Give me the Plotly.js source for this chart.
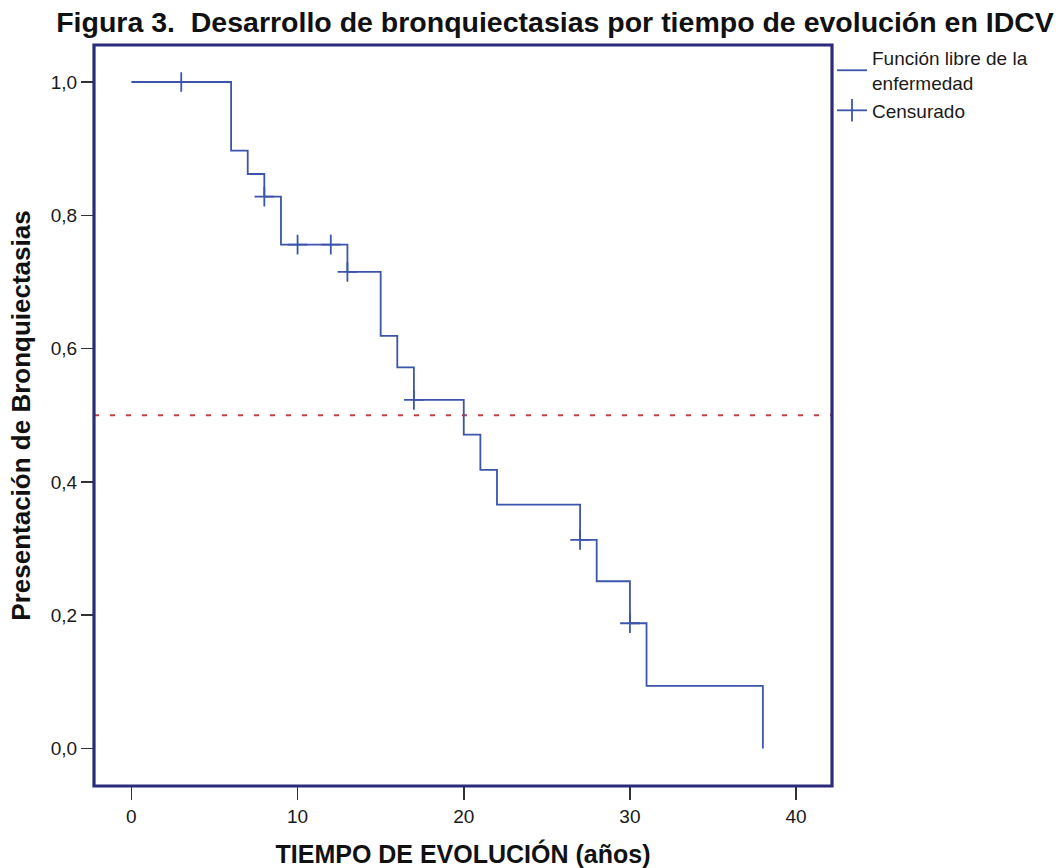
<!DOCTYPE html>
<html>
<head>
<meta charset="utf-8">
<script src="https://cdn.plot.ly/plotly-3.0.1.min.js"></script>
<style>
  html, body { margin: 0; padding: 0; background: #ffffff; }
  #chart { width: 1059px; height: 868px; }
</style>
</head>
<body>
<div id="chart"></div>
<script>
// Kaplan-Meier step data (time in years, survival fraction)
const eventTimes = [0, 6, 7, 8, 9, 13, 15, 16, 17, 20, 21, 22, 27, 28, 30, 31, 38];
const survival = [1.0, 0.897, 0.862, 0.828, 0.756, 0.715, 0.619, 0.572, 0.523, 0.471, 0.418, 0.366, 0.313, 0.251, 0.188, 0.094, 0.0];
// Censored observations
const censorTimes = [3, 8, 10, 12, 13, 17, 27, 30];
const censorSurvival = [1.0, 0.828, 0.756, 0.756, 0.715, 0.523, 0.313, 0.188];
// Axis ticks
const xTicks = [0, 10, 20, 30, 40];
const yTicks = [0.0, 0.2, 0.4, 0.6, 0.8, 1.0];
// Reference line (median)
const medianLevel = 0.5;

const seriesNames = ['Función libre de la<br>enfermedad', 'Censurado'];
const titleText = 'Figura 3.\u00a0 Desarrollo de bronquiectasias por tiempo de evolución en IDCV';
const xTitle = 'TIEMPO DE EVOLUCIÓN (años)';
const yTitle = 'Presentación de Bronquiectasias';

const lineColor = '#3c55aa';
const boxColor = '#2b2b7b';
const fontFamily = '"Liberation Sans", Arial, Helvetica, sans-serif';

const traces = [
  {
    x: eventTimes, y: survival,
    type: 'scatter', mode: 'lines',
    line: { shape: 'hv', color: lineColor, width: 1.8 },
    name: seriesNames[0],
    hoverinfo: 'x+y'
  },
  {
    x: censorTimes, y: censorSurvival,
    type: 'scatter', mode: 'markers',
    marker: { symbol: 'cross-thin-open', size: 14, color: lineColor, line: { color: lineColor, width: 1.8 } },
    name: seriesNames[1],
    showlegend: false,
    legendgroup: 'cens'
  },
  {
    x: [null], y: [null],
    type: 'scatter', mode: 'lines+markers',
    line: { color: lineColor, width: 1.8 },
    marker: { symbol: 'line-ns-open', size: 16, color: lineColor, line: { color: lineColor, width: 1.8 } },
    name: seriesNames[1],
    legendgroup: 'cens'
  }
];

const layout = {
  width: 1059, height: 868,
  paper_bgcolor: '#ffffff', plot_bgcolor: '#ffffff',
  separators: ',.',
  margin: { l: 94, r: 227, t: 45, b: 82, pad: 0 },
  font: { family: fontFamily, color: '#1a1a1a', size: 19 },
  title: {
    text: titleText,
    font: { family: fontFamily, size: 28.5, weight: 'bold', color: '#111111' },
    x: 555 / 1059, xref: 'container', xanchor: 'center',
    y: 1 - 22 / 868, yref: 'container', yanchor: 'middle'
  },
  xaxis: {
    range: [-2.25, 42.16],
    tickvals: xTicks,
    ticks: 'outside', ticklen: 13, tickwidth: 1.5, tickcolor: '#333333',
    tickfont: { size: 19, color: '#1a1a1a' },
    showgrid: false, zeroline: false, showline: false,
    title: { text: xTitle, font: { size: 25, weight: 'bold', color: '#111111' }, standoff: 22 },
    fixedrange: true
  },
  yaxis: {
    range: [-0.0562, 1.0555],
    tickvals: yTicks, tickformat: '.1f',
    ticks: 'outside', ticklen: 12, tickwidth: 1.5, tickcolor: '#333333',
    tickfont: { size: 19, color: '#1a1a1a' },
    showgrid: false, zeroline: false, showline: false,
    title: { text: yTitle, font: { size: 26, weight: 'bold', color: '#111111' }, standoff: 12 },
    fixedrange: true
  },
  legend: {
    x: 1.0, xanchor: 'left', y: 1.008, yanchor: 'top',
    bgcolor: 'rgba(0,0,0,0)', borderwidth: 0,
    font: { size: 19, color: '#1a1a1a' },
    tracegroupgap: 0
  },
  shapes: [
    {
      type: 'line', xref: 'paper', x0: 0, x1: 1, yref: 'y', y0: medianLevel, y1: medianLevel,
      line: { color: '#c84040', width: 2, dash: '5px,11px' }, layer: 'below'
    },
    {
      type: 'rect', xref: 'paper', yref: 'paper', x0: 0, x1: 1, y0: 0, y1: 1,
      line: { color: boxColor, width: 3.2 }, fillcolor: 'rgba(0,0,0,0)', layer: 'above'
    }
  ],
  showlegend: true
};

Plotly.newPlot('chart', traces, layout, { displayModeBar: false, staticPlot: true });
</script>
</body>
</html>
